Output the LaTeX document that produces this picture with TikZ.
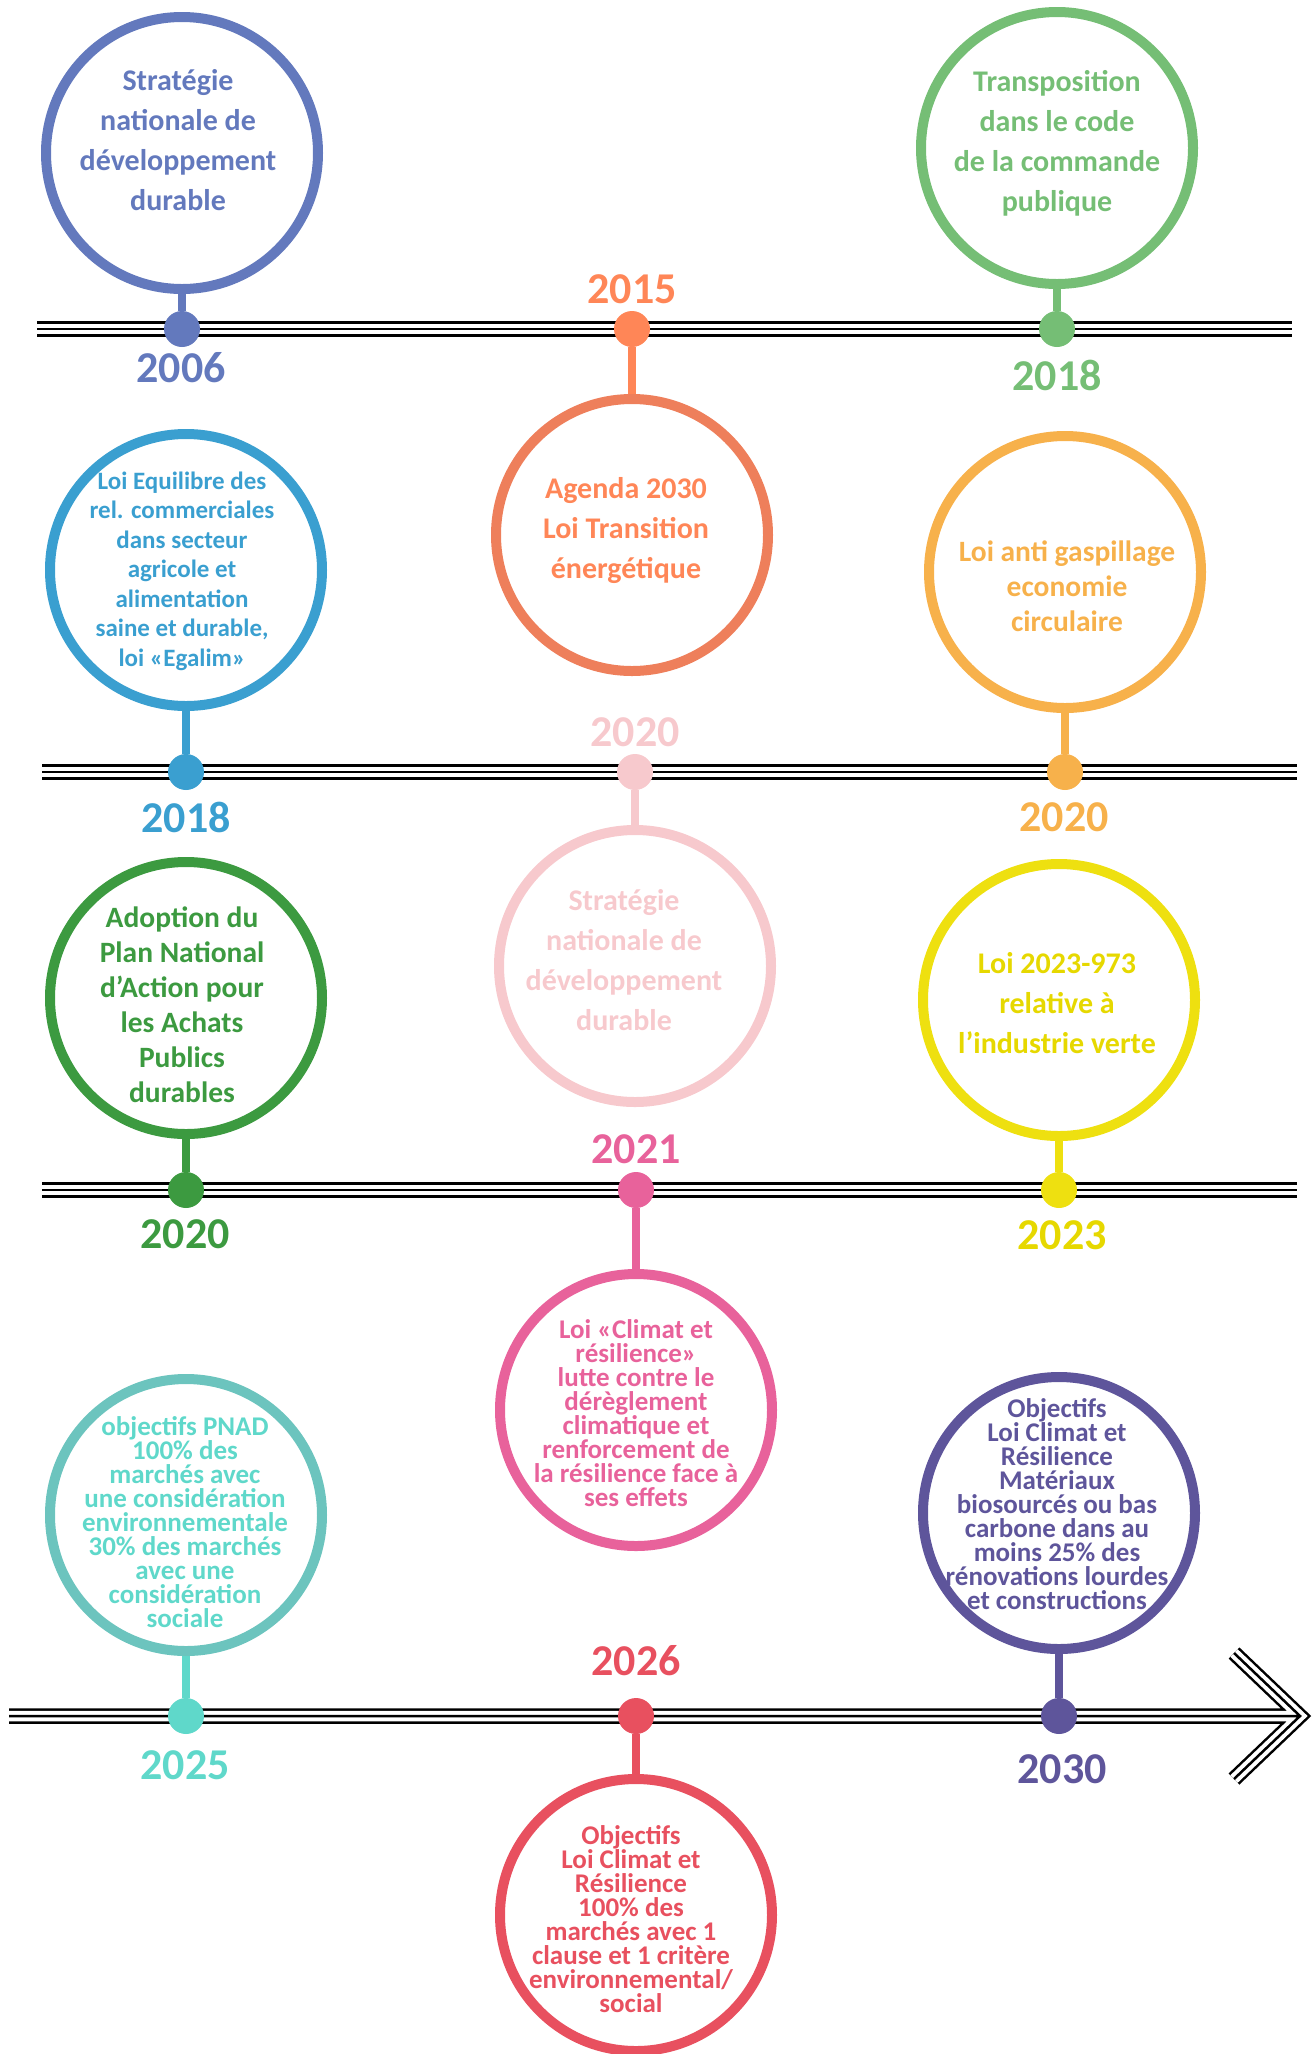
\documentclass[tikz,border=0pt]{standalone}
\usepackage{fontspec}
\setmainfont{Carlito}
\newcommand\mytightls{\setlength{\lineskiplimit}{-100pt}\relax}
\definecolor{k06}{HTML}{6379BD}
\definecolor{k15}{HTML}{FF8657}
\definecolor{k15c}{HTML}{EE7F5B}
\definecolor{k18g}{HTML}{75BE75}
\definecolor{k18b}{HTML}{3A9FD0}
\definecolor{k20o}{HTML}{F7B14B}
\definecolor{k20p}{HTML}{F7C9CD}
\definecolor{k20g}{HTML}{3C9A40}
\definecolor{k21}{HTML}{E8629B}
\definecolor{k23}{HTML}{EEE010}
\definecolor{k23t}{HTML}{E6D800}
\definecolor{k25}{HTML}{6CC4BE}
\definecolor{k25t}{HTML}{5FD8CA}
\definecolor{k26}{HTML}{E8505F}
\definecolor{k30}{HTML}{5E559B}
\tikzset{
  ring/.style={circle,draw=#1,line width=10pt,minimum size=272pt,inner sep=0pt},
  dotn/.style={circle,fill=#1,minimum size=36pt,inner sep=0pt},
  stem/.style={draw=#1,line width=8pt},
  yr/.style={text=#1,font=\fontsize{44}{44}\selectfont\bfseries,inner sep=0pt},
  txt/.style={text=#1,align=center,inner sep=0pt},
  fbig/.style={font=\fontsize{30}{40}\selectfont\bfseries},
  fmid/.style={font=\fontsize{29.5}{35}\selectfont\bfseries},
  fsmall/.style={font=\fontsize{25}{29.5}\selectfont\bfseries},
  ftight/.style={font=\fontsize{27}{24}\selectfont\bfseries\mytightls},
  triline/.style={line width=2.5pt,black,
    preaction={draw,black,line width=15.5pt},
    preaction={draw,white,line width=10.5pt}}
}
\begin{document}
\begin{tikzpicture}[x=1pt,y=-1pt]
\useasboundingbox (0,0) rectangle (1314,2054);
% timelines
\coordinate (r1a) at (37,329);  \coordinate (r1b) at (1292,329);
\coordinate (r2a) at (42,772);  \coordinate (r2b) at (1297,772);
\coordinate (r3a) at (42,1190); \coordinate (r3b) at (1297,1190);
\coordinate (r4a) at (9,1716);  \coordinate (r4b) at (1300,1716);
\coordinate (ar1) at (1234,1653); \coordinate (ar2) at (1234,1779);
\draw[triline] (r1a) -- (r1b);
\draw[triline] (r2a) -- (r2b);
\draw[triline] (r3a) -- (r3b);
\draw[triline,miter limit=10] (r4a) -- (r4b) (ar1) -- (r4b) -- (ar2);
% circles
\node[ring=k06]  (c06)  at (182,153)  {};
\node[ring=k15c] (c15)  at (632,535)  {};
\node[ring=k18g] (c18g) at (1057,148) {};
\node[ring=k18b] (c18b) at (186,570)  {};
\node[ring=k20p] (c20p) at (635,966)  {};
\node[ring=k20o] (c20o) at (1065,572) {};
\node[ring=k20g] (c20g) at (186,998)  {};
\node[ring=k21]  (c21)  at (636,1410) {};
\node[ring=k23]  (c23)  at (1059,1000) {};
\node[ring=k25]  (c25)  at (186,1515) {};
\node[ring=k26]  (c26)  at (636,1915) {};
\node[ring=k30]  (c30)  at (1059,1513) {};
% dots
\node[dotn=k06]  (d06)  at (182,329)  {};
\node[dotn=k15]  (d15)  at (632,329)  {};
\node[dotn=k18g] (d18g) at (1057,329) {};
\node[dotn=k18b] (d18b) at (186,772)  {};
\node[dotn=k20p] (d20p) at (635,772)  {};
\node[dotn=k20o] (d20o) at (1065,772) {};
\node[dotn=k20g] (d20g) at (186,1190) {};
\node[dotn=k21]  (d21)  at (636,1190) {};
\node[dotn=k23]  (d23)  at (1059,1190) {};
\node[dotn=k25t] (d25)  at (186,1716) {};
\node[dotn=k26]  (d26)  at (636,1716) {};
\node[dotn=k30]  (d30)  at (1059,1716) {};
% stems
\draw[stem=k06]  (c06)  -- (d06);
\draw[stem=k15]  (c15)  -- (d15);
\draw[stem=k18g] (c18g) -- (d18g);
\draw[stem=k18b] (c18b) -- (d18b);
\draw[stem=k20p] (c20p) -- (d20p);
\draw[stem=k20o] (c20o) -- (d20o);
\draw[stem=k20g] (c20g) -- (d20g);
\draw[stem=k21]  (c21)  -- (d21);
\draw[stem=k23]  (c23)  -- (d23);
\draw[stem=k25t] (c25)  -- (d25);
\draw[stem=k26]  (c26)  -- (d26);
\draw[stem=k30]  (c30)  -- (d30);
% year labels
\node[yr=k06]  (y06)  at (181,368)  {2006};
\node[yr=k15]  (y15)  at (632,289)  {2015};
\node[yr=k18g] (y18g) at (1057,375) {2018};
\node[yr=k18b] (y18b) at (186,817)  {2018};
\node[yr=k20p] (y20p) at (635,732)  {2020};
\node[yr=k20o] (y20o) at (1064,817) {2020};
\node[yr=k20g] (y20g) at (185,1234) {2020};
\node[yr=k21]  (y21)  at (636,1149) {2021};
\node[yr=k23t] (y23)  at (1062,1235) {2023};
\node[yr=k25t] (y25)  at (185,1765) {2025};
\node[yr=k26]  (y26)  at (636,1661) {2026};
\node[yr=k30]  (y30)  at (1062,1769) {2030};
% texts
\node[txt=k06,fbig] (t06) at (178,140) {Stratégie\\nationale de\\développement\\durable};
\node[txt=k15,fbig] (t15) at (626,531) {Agenda 2030\\Loi Transition\\énergétique};
\node[txt=k18g,fbig] (t18g) at (1057,143) {Transposition\\dans le code\\de la commande\\publique};
\node[txt=k18b,fsmall] (t18b) at (182,571) {Loi Equilibre des\\rel. commerciales\\dans secteur\\agricole et\\alimentation\\saine et durable,\\loi «Egalim»};
\node[txt=k20p,fbig] (t20p) at (624,960) {Stratégie\\nationale de\\développement\\durable};
\node[txt=k20o,fmid] (t20o) at (1067,586) {Loi anti gaspillage\\economie\\circulaire};
\node[txt=k20g,fmid] (t20g) at (182,1005) {Adoption du\\Plan National\\d’Action pour\\les Achats\\Publics\\durables};
\node[txt=k21,ftight] (t21) at (636,1413) {Loi «Climat et\\résilience»\\lutte contre le\\dérèglement\\climatique et\\renforcement de\\la résilience face à\\ses effets};
\node[txt=k23t,fbig] (t23) at (1057,1003) {Loi 2023-973\\relative à\\l’industrie verte};
\node[txt=k25t,ftight] (t25) at (185,1522) {objectifs PNAD\\100\% des\\marchés avec\\une considération\\environnementale\\30\% des marchés\\avec une\\considération\\sociale};
\node[txt=k30,ftight] (t30) at (1057,1504) {Objectifs\\Loi Climat et\\Résilience\\Matériaux\\biosourcés ou bas\\carbone dans au\\moins 25\% des\\rénovations lourdes\\et constructions};
\node[txt=k26,ftight] (t26) at (631,1919) {Objectifs\\Loi Climat et\\Résilience\\100\% des\\marchés avec 1\\clause et 1 critère\\environnemental/\\social};
\end{tikzpicture}
\end{document}
